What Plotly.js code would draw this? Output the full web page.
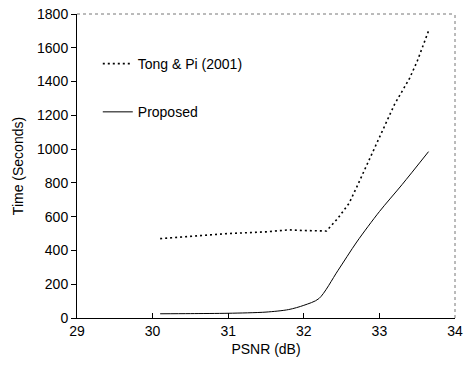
<!DOCTYPE html>
<html><head><meta charset="utf-8">
<script src="https://cdn.plot.ly/plotly-3.0.1.min.js"></script>
<style>html,body{margin:0;padding:0;background:#fff}#c{width:464px;height:375px}</style>
</head><body><div id="c"></div>
<script>
const tongX = [30.1, 30.5, 31.0, 31.5, 31.8, 32.0, 32.3, 32.45, 32.6, 32.7, 32.95, 33.2, 33.4, 33.5, 33.65];
const tongY = [470, 485, 500, 510, 522, 518, 515, 590, 680, 775, 1020, 1265, 1420, 1520, 1700];
const propX = [30.1, 30.5, 31.0, 31.5, 31.8, 32.0, 32.2, 32.45, 32.7, 33.0, 33.3, 33.65];
const propY = [25, 26, 28, 35, 50, 75, 115, 280, 450, 630, 790, 985];
const xTicks = [29, 30, 31, 32, 33, 34];
const yTicks = [0, 200, 400, 600, 800, 1000, 1200, 1400, 1600, 1800];
const names = ['Tong & Pi (2001)', 'Proposed'];

const FONT = '"Liberation Sans Narrow", "Liberation Sans", Arial, sans-serif';
const traces = [
  {x: tongX, y: tongY, name: names[0], mode: 'lines', line: {color: '#000', width: 1.6, dash: '2px,3px', shape: 'linear'}, legendgroup: 'a'},
  {x: propX, y: propY, name: names[1], mode: 'lines', line: {color: '#000', width: 1, shape: 'spline', smoothing: 0.8}, legendgroup: 'b'}
];
const layout = {
  width: 464, height: 375,
  margin: {l: 77, r: 9, t: 14, b: 57},
  paper_bgcolor: '#fff', plot_bgcolor: '#fff',
  font: {family: FONT, size: 14, color: '#000'},
  showlegend: true,
  legend: {x: 0.055, y: 0.888, xanchor: 'left', yanchor: 'top', bgcolor: 'rgba(0,0,0,0)',
           font: {family: FONT, size: 14}, tracegroupgap: 27, traceorder: 'grouped', itemwidth: 30},
  xaxis: {range: [29, 34], tickvals: xTicks, ticktext: xTicks.map(String), showgrid: false, zeroline: false,
          showline: true, linecolor: '#000', linewidth: 1, ticks: 'inside', ticklen: 5, tickcolor: '#000',
          title: {text: 'PSNR (dB)', font: {family: FONT, size: 14}, standoff: 6}},
  yaxis: {range: [0, 1800], tickvals: yTicks, ticktext: yTicks.map(String), showgrid: false, zeroline: false,
          showline: true, linecolor: '#000', linewidth: 1, ticks: 'outside', ticklen: 5, tickcolor: '#000',
          title: {text: 'Time (Seconds)', font: {family: FONT, size: 14}, standoff: 10}},
  shapes: [
    {type: 'line', xref: 'paper', yref: 'paper', x0: 0, x1: 1, y0: 1, y1: 1, line: {color: '#777', width: 1, dash: 'dot'}},
    {type: 'line', xref: 'paper', yref: 'paper', x0: 1, x1: 1, y0: 0, y1: 1, line: {color: '#777', width: 1, dash: 'dot'}}
  ]
};
Plotly.newPlot('c', traces, layout, {staticPlot: true, displayModeBar: false});
</script></body></html>
